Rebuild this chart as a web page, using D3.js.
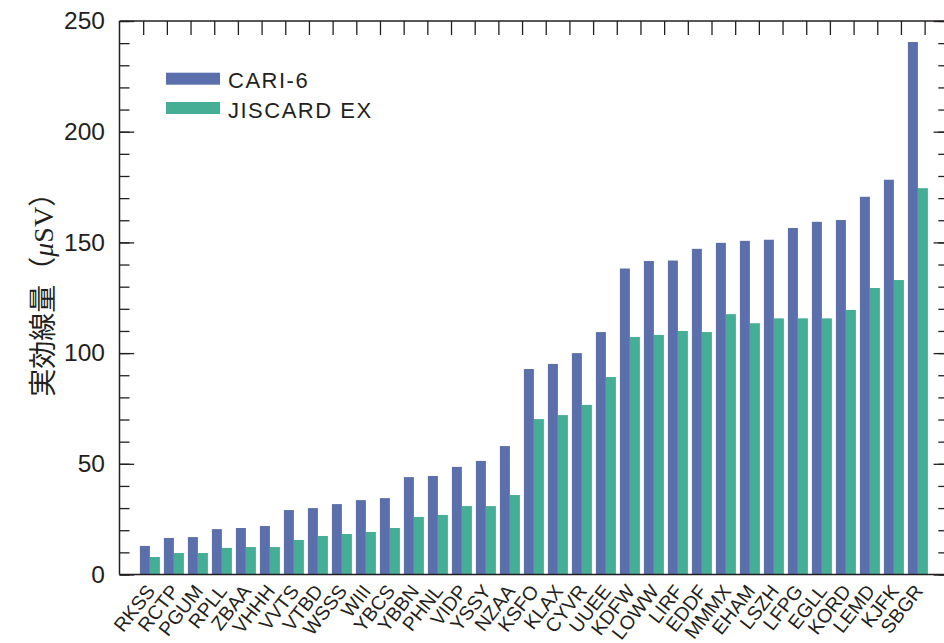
<!DOCTYPE html>
<html>
<head>
<meta charset="utf-8">
<script src="https://cdn.jsdelivr.net/npm/d3@7"></script>
<style>
  html, body { margin: 0; padding: 0; background: #fff; }
  svg { display: block; }
</style>
</head>
<body>
<svg id="chart" width="944" height="643"></svg>
<script>
// Airports, ordered by CARI-6 effective dose
const airports = ["RKSS","RCTP","PGUM","RPLL","ZBAA","VHHH","VVTS","VTBD","WSSS","WIII",
  "YBCS","YBBN","PHNL","VIDP","YSSY","NZAA","KSFO","KLAX","CYVR","UUEE","KDFW","LOWW",
  "LIRF","EDDF","MMMX","EHAM","LSZH","LFPG","EGLL","KORD","LEMD","KJFK","SBGR"];

// Effective dose (μSv) per model
const cari6 = [12.9,16.5,16.9,20.5,21.0,21.9,29.1,30.0,31.8,33.6,
  34.5,44.0,44.5,48.6,51.3,58.0,92.8,95.1,100.0,109.5,138.2,141.6,
  141.8,147.1,149.8,150.7,151.2,156.5,159.3,160.1,170.6,178.3,240.5];
const jiscard = [7.9,9.7,9.7,12.0,12.4,12.4,15.6,17.4,18.3,19.2,
  21.0,26.0,26.9,30.9,30.9,35.9,70.2,72.0,76.6,89.2,107.3,108.2,
  110.0,109.5,117.6,113.5,115.7,115.7,115.7,119.5,129.4,133.0,174.5];

const seriesNames = ["CARI-6", "JISCARD EX"];
const seriesColors = ["#5a6fac", "#47ae96"];
const yMajorTicks = [0, 50, 100, 150, 200, 250];
const yMinorTicks = d3.range(0, 251, 10);
const topTicks = d3.range(1, 35);

const svg = d3.select("#chart");
const plotLeft = 119.5, plotRight = 948.3, plotTop = 21, plotBottom = 574.5;
const ink = "#231f20";

const x = d3.scaleBand().domain(airports).range([plotLeft, plotRight])
  .paddingInner(1 / 6).paddingOuter(0.85);
const xs = d3.scaleBand().domain(seriesNames).range([0, x.bandwidth()]);
const y = d3.scaleLinear().domain([0, 250]).range([plotBottom, plotTop]);
const xTop = d3.scaleLinear().domain([0, 35]).range([plotLeft, plotRight]);

// Bars
const groups = svg.append("g").selectAll("g")
  .data(airports)
  .join("g")
  .attr("transform", d => `translate(${x(d)},0)`);

const seriesData = [cari6, jiscard];
groups.selectAll("rect")
  .data((d, i) => seriesNames.map((s, k) => ({ s, k, v: seriesData[k][i] })))
  .join("rect")
  .attr("x", d => xs(d.s))
  .attr("width", xs.bandwidth())
  .attr("y", d => y(d.v))
  .attr("height", d => y(0) - y(d.v))
  .attr("fill", d => seriesColors[d.k]);

// Axis helper: strip domain path and set tick styling
function styleAxis(g) {
  g.select(".domain").remove();
  g.selectAll(".tick line").attr("stroke", ink).attr("stroke-width", 1.3);
}

// Left axis: major ticks with labels, minor ticks
svg.append("g")
  .attr("transform", `translate(${plotLeft},0)`)
  .call(d3.axisLeft(y).tickValues(yMinorTicks).tickSize(-10).tickFormat(""))
  .call(styleAxis);
svg.append("g")
  .attr("transform", `translate(${plotLeft},0)`)
  .call(d3.axisLeft(y).tickValues(yMajorTicks).tickSize(-14.7).tickPadding(14.5))
  .call(styleAxis)
  .call(g => g.selectAll("text")
    .attr("fill", ink)
    .style("font-family", "'Liberation Sans', Arial, sans-serif")
    .style("font-size", "24.5px"));

// Right axis mirrors the left ticks
svg.append("g")
  .attr("transform", `translate(${plotRight},0)`)
  .call(d3.axisRight(y).tickValues(yMinorTicks).tickSize(-10).tickFormat(""))
  .call(styleAxis);
svg.append("g")
  .attr("transform", `translate(${plotRight},0)`)
  .call(d3.axisRight(y).tickValues(yMajorTicks).tickSize(-14.7).tickFormat(""))
  .call(styleAxis);

// Top axis ticks
svg.append("g")
  .attr("transform", `translate(0,${plotTop})`)
  .call(d3.axisTop(xTop).tickValues(topTicks).tickSize(-14).tickFormat(""))
  .call(styleAxis);

// Bottom axis: rotated airport codes
svg.append("g")
  .attr("transform", `translate(0,${plotBottom})`)
  .call(d3.axisBottom(x).tickSize(0).tickSizeOuter(0))
  .call(g => g.select(".domain").remove())
  .call(g => g.selectAll("text")
    .attr("x", 0).attr("y", 0).attr("dy", 0)
    .attr("text-anchor", "end")
    .attr("transform", "translate(6,17) rotate(-52)")
    .attr("fill", ink)
    .style("font-family", "'Liberation Sans', Arial, sans-serif")
    .style("font-size", "19.5px"));

// Frame
const frame = svg.append("g").attr("stroke", ink).attr("fill", "none");
frame.append("line").attr("x1", plotLeft).attr("x2", plotLeft).attr("y1", plotTop).attr("y2", plotBottom).attr("stroke-width", 1.5);
frame.append("line").attr("x1", plotLeft).attr("x2", plotRight).attr("y1", plotTop).attr("y2", plotTop).attr("stroke-width", 1.3);
frame.append("line").attr("x1", plotLeft).attr("x2", plotRight).attr("y1", plotBottom).attr("y2", plotBottom).attr("stroke-width", 1.6);
frame.append("line").attr("x1", plotRight).attr("x2", plotRight).attr("y1", plotTop).attr("y2", plotBottom).attr("stroke-width", 1.3);

// Y axis title
const title = svg.append("text")
  .attr("transform", `translate(53,${(plotTop + plotBottom) / 2 - 10}) rotate(-90)`)
  .attr("text-anchor", "middle")
  .attr("fill", ink)
  .style("font-size", "28px");
title.append("tspan").style("font-family", "'Noto Sans CJK JP', sans-serif").text("実効線量（");
title.append("tspan").style("font-family", "'Liberation Serif', serif").style("font-style", "italic").text("μ");
title.append("tspan").style("font-family", "'Liberation Serif', serif").text("SV");
title.append("tspan").style("font-family", "'Noto Sans CJK JP', sans-serif").text("）");

// Legend
const legend = svg.append("g");
seriesNames.forEach((name, i) => {
  legend.append("rect")
    .attr("x", 166).attr("y", 72.7 + i * 29.3)
    .attr("width", 54).attr("height", 12)
    .attr("fill", seriesColors[i]);
  legend.append("text")
    .attr("x", 228).attr("y", 88.3 + i * 29.3)
    .attr("fill", ink)
    .style("font-family", "'Liberation Sans', Arial, sans-serif")
    .style("font-size", "22px")
    .style("letter-spacing", "1.5px")
    .text(name);
});
</script>
</body>
</html>
